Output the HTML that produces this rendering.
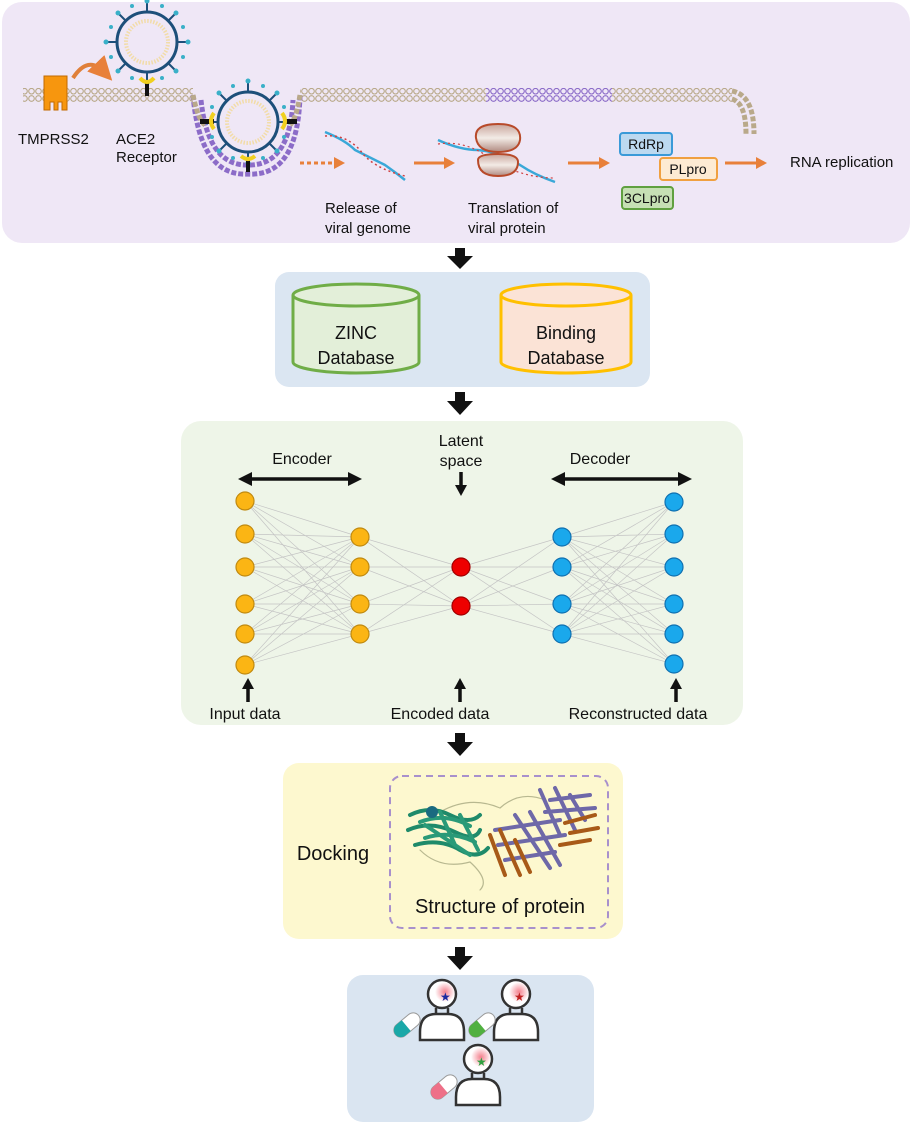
<!DOCTYPE html>
<html><head><meta charset="utf-8"><style>
html,body{margin:0;padding:0;background:#fff}
svg{display:block;font-family:"Liberation Sans",Arial,sans-serif}
</style></head><body>
<svg width="914" height="1126" viewBox="0 0 914 1126" xmlns="http://www.w3.org/2000/svg">
<defs>
<pattern id="mem" x="0" y="88" width="7" height="14" patternUnits="userSpaceOnUse">
<circle cx="3.5" cy="3.2" r="2.8" fill="none" stroke="#b9a98a" stroke-width="1.1"/>
<circle cx="3.5" cy="10.5" r="2.8" fill="none" stroke="#b9a98a" stroke-width="1.1"/>
</pattern>
<pattern id="memp" x="0" y="88" width="7" height="14" patternUnits="userSpaceOnUse">
<circle cx="3.5" cy="3.2" r="2.8" fill="none" stroke="#8c6cc8" stroke-width="1.1"/>
<circle cx="3.5" cy="10.5" r="2.8" fill="none" stroke="#8c6cc8" stroke-width="1.1"/>
</pattern>
<radialGradient id="glow"><stop offset="0" stop-color="#f06070" stop-opacity=".8"/><stop offset="1" stop-color="#f06070" stop-opacity="0"/></radialGradient>
<linearGradient id="rib" x1="0" y1="0" x2="0" y2="1"><stop offset="0" stop-color="#c8a49a"/><stop offset=".5" stop-color="#f3ebe6"/><stop offset="1" stop-color="#b08a80"/></linearGradient>
<g id="virus">
<circle r="30" fill="none" stroke="#1d4f7a" stroke-width="3"/>
<circle r="21" fill="none" stroke="#f2dca8" stroke-width="4" stroke-dasharray="1.5 1.5"/>
<g stroke="#1d4f7a" stroke-width="2">
<line x1="0" y1="-30" x2="0" y2="-40"/><line x1="0" y1="30" x2="0" y2="40"/><line x1="-30" y1="0" x2="-40" y2="0"/><line x1="30" y1="0" x2="40" y2="0"/>
<line x1="21" y1="21" x2="28" y2="28"/><line x1="-21" y1="21" x2="-28" y2="28"/><line x1="21" y1="-21" x2="28" y2="-28"/><line x1="-21" y1="-21" x2="-28" y2="-28"/>
</g>
<g fill="#3ab0c8"><circle cx="0" cy="-41" r="2.5"/><circle cx="0" cy="41" r="2.5"/><circle cx="-41" cy="0" r="2.5"/><circle cx="41" cy="0" r="2.5"/><circle cx="29" cy="29" r="2.5"/><circle cx="-29" cy="29" r="2.5"/><circle cx="29" cy="-29" r="2.5"/><circle cx="-29" cy="-29" r="2.5"/>
<circle cx="15" cy="-36" r="2"/><circle cx="-15" cy="-36" r="2"/><circle cx="36" cy="15" r="2"/><circle cx="36" cy="-15" r="2"/><circle cx="-36" cy="15" r="2"/><circle cx="-36" cy="-15" r="2"/><circle cx="15" cy="36" r="2"/><circle cx="-15" cy="36" r="2"/></g>
</g>
<g id="person">
<circle cx="0" cy="-18" r="14" fill="#fff" stroke="#333" stroke-width="2.5"/>
<circle cx="3" cy="-20" r="10" fill="url(#glow)"/>
<path d="M-6,-4 L-6,2 M6,-4 L6,2" stroke="#333" stroke-width="2.5"/>
<path d="M-22,28 L-22,20 Q-22,2 -6,2 L6,2 Q22,2 22,20 L22,28 Z" fill="#fff" stroke="#333" stroke-width="2.5"/>
</g>
<marker id="oa" markerWidth="6" markerHeight="6" refX="3" refY="3" orient="auto"><path d="M0,0 L6,3 L0,6 Z" fill="#e8803a"/></marker>
</defs>

<rect x="2" y="2" width="908" height="241" rx="20" fill="#efe7f6"/>
<rect x="23" y="88" width="170" height="14" fill="url(#mem)"/>
<rect x="300" y="88" width="186" height="14" fill="url(#mem)"/>
<rect x="486" y="88" width="126" height="14" fill="url(#memp)"/>
<rect x="612" y="88" width="120" height="14" fill="url(#mem)"/>
<path d="M732,91 Q754,95 754,134" fill="none" stroke="#b9a98a" stroke-width="5" stroke-dasharray="5 2"/>
<path d="M732,99 Q746,103 746,134" fill="none" stroke="#b9a98a" stroke-width="5" stroke-dasharray="5 2"/>
<path d="M193,95 Q200,177 248,174 Q298,177 300,95" fill="none" stroke="#8c6cc8" stroke-width="5" stroke-dasharray="5 2"/>
<path d="M201,100 Q208,166 248,165 Q290,166 293,100" fill="none" stroke="#8c6cc8" stroke-width="5" stroke-dasharray="5 2"/>
<path d="M193,95 Q198,120 205,125" fill="none" stroke="#b9a98a" stroke-width="5" stroke-dasharray="5 2"/>
<path d="M300,95 Q296,120 290,125" fill="none" stroke="#b9a98a" stroke-width="5" stroke-dasharray="5 2"/>
<use href="#virus" x="147" y="42"/>
<rect x="145" y="80" width="4" height="16" fill="#111"/>
<path d="M140,78 Q147,86 154,78" fill="none" stroke="#f0d020" stroke-width="4"/>
<use href="#virus" x="248" y="122"/>
<rect x="200" y="119" width="14" height="5" fill="#111"/><rect x="283" y="119" width="14" height="5" fill="#111"/>
<rect x="246" y="160" width="4" height="12" fill="#111"/>
<path d="M214,113 Q208,121 214,129" fill="none" stroke="#f0d020" stroke-width="4"/>
<path d="M282,113 Q288,121 282,129" fill="none" stroke="#f0d020" stroke-width="4"/>
<path d="M241,156 Q248,162 255,156" fill="none" stroke="#f0d020" stroke-width="4"/>
<path d="M44,76 L67,76 L67,110 L62,110 L62,102 L58,102 L58,110 L54,110 L54,102 L50,102 L50,110 L44,110 Z" fill="#f7960e" stroke="#c06a00" stroke-width="1"/>
<path d="M73,78 Q88,55 104,72" fill="none" stroke="#e0803a" stroke-width="4" marker-end="url(#oa)"/>
<g font-size="15" fill="#111">
<text x="18" y="144">TMPRSS2</text>
<text x="116" y="144">ACE2</text><text x="116" y="162">Receptor</text>
<text x="325" y="213">Release of</text><text x="325" y="233">viral genome</text>
<text x="468" y="213">Translation of</text><text x="468" y="233">viral protein</text>
<text x="790" y="167">RNA replication</text>
</g>
<line x1="300" y1="163" x2="334" y2="163" stroke="#e8803a" stroke-width="3" stroke-dasharray="4 3"/>
<path d="M334,157 L345,163 L334,169 Z" fill="#e8803a"/>
<line x1="414" y1="163" x2="445" y2="163" stroke="#e8803a" stroke-width="3"/><path d="M444,157 L455,163 L444,169 Z" fill="#e8803a"/>
<line x1="568" y1="163" x2="600" y2="163" stroke="#e8803a" stroke-width="3"/><path d="M599,157 L610,163 L599,169 Z" fill="#e8803a"/>
<line x1="725" y1="163" x2="757" y2="163" stroke="#e8803a" stroke-width="3"/><path d="M756,157 L767,163 L756,169 Z" fill="#e8803a"/>
<path d="M325,132 Q345,140 355,150 Q375,160 385,165 Q395,172 405,180" fill="none" stroke="#3aa8d8" stroke-width="2.5"/>
<path d="M325,136 Q345,134 360,150 Q372,168 405,176" fill="none" stroke="#d04040" stroke-width="1.5" stroke-dasharray="2 3"/>
<path d="M438,140 Q460,150 478,150 Q500,152 520,165 Q535,175 555,182" fill="none" stroke="#3aa8d8" stroke-width="2.5"/>
<path d="M438,144 Q465,140 490,158 Q520,178 555,178" fill="none" stroke="#d04040" stroke-width="1.2" stroke-dasharray="2 3"/>
<path d="M476,138 Q474,124 498,124 Q522,124 520,140 Q518,152 498,152 Q478,152 476,138 Z" fill="url(#rib)" stroke="#b84a2a" stroke-width="2"/>
<path d="M478,160 Q478,154 498,154 Q518,154 518,162 Q518,176 498,176 Q478,176 478,160 Z" fill="url(#rib)" stroke="#b84a2a" stroke-width="2"/>
<rect x="620" y="133" width="52" height="22" rx="3" fill="#bcd9f0" stroke="#3a9ad8" stroke-width="2"/>
<rect x="660" y="158" width="57" height="22" rx="3" fill="#fdebd3" stroke="#f0a040" stroke-width="2"/>
<rect x="622" y="187" width="51" height="22" rx="3" fill="#c6e0b4" stroke="#60a040" stroke-width="2"/>
<g font-size="14" fill="#111" text-anchor="middle"><text x="646" y="149">RdRp</text><text x="688" y="174">PLpro</text><text x="647" y="203">3CLpro</text></g>

<g fill="#111">
<path d="M455,248 L465,248 L465,256 L473,256 L460,269 L447,256 L455,256 Z"/>
<path d="M455,392 L465,392 L465,401 L473,401 L460,415 L447,401 L455,401 Z"/>
<path d="M455,733 L465,733 L465,742 L473,742 L460,756 L447,742 L455,742 Z"/>
<path d="M455,947 L465,947 L465,956 L473,956 L460,970 L447,956 L455,956 Z"/>
</g>

<rect x="275" y="272" width="375" height="115" rx="14" fill="#dbe6f2"/>
<path d="M293,295 L293,362 A63,11 0 0 0 419,362 L419,295" fill="#e3efd9" stroke="#70ad47" stroke-width="3"/>
<ellipse cx="356" cy="295" rx="63" ry="11" fill="#e3efd9" stroke="#70ad47" stroke-width="3"/>
<path d="M501,295 L501,362 A65,11 0 0 0 631,362 L631,295" fill="#fbe3d6" stroke="#ffc000" stroke-width="3"/>
<ellipse cx="566" cy="295" rx="65" ry="11" fill="#fbe3d6" stroke="#ffc000" stroke-width="3"/>
<g font-size="18" fill="#111" text-anchor="middle">
<text x="356" y="339">ZINC</text><text x="356" y="364">Database</text>
<text x="566" y="339">Binding</text><text x="566" y="364">Database</text>
</g>

<rect x="181" y="421" width="562" height="304" rx="20" fill="#eef5e8"/>
<g font-size="16" fill="#111" text-anchor="middle">
<text x="302" y="464">Encoder</text><text x="600" y="464">Decoder</text>
<text x="461" y="446">Latent</text><text x="461" y="466">space</text>
<text x="245" y="719">Input data</text><text x="440" y="719">Encoded data</text><text x="638" y="719">Reconstructed data</text>
</g>
<g stroke="#111" stroke-width="3.5" fill="#111">
<line x1="250" y1="479" x2="350" y2="479"/><path d="M238,479 L252,472 L252,486 Z" stroke="none"/><path d="M362,479 L348,472 L348,486 Z" stroke="none"/>
<line x1="563" y1="479" x2="680" y2="479"/><path d="M551,479 L565,472 L565,486 Z" stroke="none"/><path d="M692,479 L678,472 L678,486 Z" stroke="none"/>
<line x1="461" y1="472" x2="461" y2="486"/><path d="M455,485 L467,485 L461,496 Z" stroke="none"/>
<line x1="248" y1="688" x2="248" y2="702"/><path d="M242,689 L254,689 L248,678 Z" stroke="none"/>
<line x1="460" y1="688" x2="460" y2="702"/><path d="M454,689 L466,689 L460,678 Z" stroke="none"/>
<line x1="676" y1="688" x2="676" y2="702"/><path d="M670,689 L682,689 L676,678 Z" stroke="none"/>
</g>
<g stroke="#c4c4c4" stroke-width="0.7">
<path d="M245,501 L360,537 M245,501 L360,567 M245,501 L360,604 M245,501 L360,634
M245,534 L360,537 M245,534 L360,567 M245,534 L360,604 M245,534 L360,634
M245,567 L360,537 M245,567 L360,567 M245,567 L360,604 M245,567 L360,634
M245,604 L360,537 M245,604 L360,567 M245,604 L360,604 M245,604 L360,634
M245,634 L360,537 M245,634 L360,567 M245,634 L360,604 M245,634 L360,634
M245,665 L360,537 M245,665 L360,567 M245,665 L360,604 M245,665 L360,634"/>
<path d="M360,537 L461,567 M360,537 L461,606 M360,567 L461,567 M360,567 L461,606 M360,604 L461,567 M360,604 L461,606 M360,634 L461,567 M360,634 L461,606"/>
<path d="M562,537 L461,567 M562,537 L461,606 M562,567 L461,567 M562,567 L461,606 M562,604 L461,567 M562,604 L461,606 M562,634 L461,567 M562,634 L461,606"/>
<path d="M674,502 L562,537 M674,502 L562,567 M674,502 L562,604 M674,502 L562,634
M674,534 L562,537 M674,534 L562,567 M674,534 L562,604 M674,534 L562,634
M674,567 L562,537 M674,567 L562,567 M674,567 L562,604 M674,567 L562,634
M674,604 L562,537 M674,604 L562,567 M674,604 L562,604 M674,604 L562,634
M674,634 L562,537 M674,634 L562,567 M674,634 L562,604 M674,634 L562,634
M674,664 L562,537 M674,664 L562,567 M674,664 L562,604 M674,664 L562,634"/>
</g>
<g fill="#fbb514" stroke="#c08a10" stroke-width="1.2">
<circle cx="245" cy="501" r="9"/><circle cx="245" cy="534" r="9"/><circle cx="245" cy="567" r="9"/><circle cx="245" cy="604" r="9"/><circle cx="245" cy="634" r="9"/><circle cx="245" cy="665" r="9"/>
<circle cx="360" cy="537" r="9"/><circle cx="360" cy="567" r="9"/><circle cx="360" cy="604" r="9"/><circle cx="360" cy="634" r="9"/>
</g>
<g fill="#ee0000" stroke="#a00000" stroke-width="1.2"><circle cx="461" cy="567" r="9"/><circle cx="461" cy="606" r="9"/></g>
<g fill="#1aa8ec" stroke="#1070b0" stroke-width="1.2">
<circle cx="562" cy="537" r="9"/><circle cx="562" cy="567" r="9"/><circle cx="562" cy="604" r="9"/><circle cx="562" cy="634" r="9"/>
<circle cx="674" cy="502" r="9"/><circle cx="674" cy="534" r="9"/><circle cx="674" cy="567" r="9"/><circle cx="674" cy="604" r="9"/><circle cx="674" cy="634" r="9"/><circle cx="674" cy="664" r="9"/>
</g>

<rect x="283" y="763" width="340" height="176" rx="16" fill="#fdf8cf"/>
<rect x="390" y="776" width="218" height="152" rx="12" fill="none" stroke="#a890cc" stroke-width="2" stroke-dasharray="7 5"/>
<text x="333" y="860" font-size="20" fill="#111" text-anchor="middle">Docking</text>
<text x="500" y="913" font-size="20" fill="#111" text-anchor="middle">Structure of protein</text>
<g stroke-width="4" fill="none" stroke-linecap="round">
<path d="M420,850 Q440,870 470,862 Q490,880 480,890 M440,812 Q470,795 500,808 Q520,790 545,800" stroke="#b8b890" stroke-width="1.2"/>
<path d="M410,815 Q430,805 450,815 Q470,825 480,815" stroke="#1f8a6a"/>
<path d="M408,830 Q430,820 455,832 Q475,842 480,830" stroke="#1f8a6a"/>
<path d="M415,845 Q440,838 460,850 Q478,860 488,848" stroke="#1f8a6a"/>
<path d="M420,822 Q445,812 470,826 M425,838 Q450,830 475,842" stroke="#2a9a78"/>
<path d="M425,825 L470,855 M440,812 L455,845 M460,815 L478,850" stroke="#2a9a78"/>
<circle cx="432" cy="812" r="6" fill="#1a6a80" stroke="none"/>
<path d="M495,830 L560,820 M498,845 L565,835 M505,860 L555,852 M515,815 L550,868 M530,812 L560,865" stroke="#6e68a8"/>
<path d="M540,790 L560,835 M555,788 L575,830 M570,795 L585,820 M550,800 L590,795 M545,812 L595,808" stroke="#6e68a8"/>
<path d="M490,835 L505,875 M500,830 L520,875 M515,840 L530,872 M565,823 L595,815 M570,833 L598,828 M560,845 L590,840" stroke="#a85a18"/>
</g>

<rect x="347" y="975" width="247" height="147" rx="16" fill="#dae5f1"/>
<use href="#person" x="442" y="1012"/>
<use href="#person" x="516" y="1012"/>
<use href="#person" x="478" y="1077"/>
<text x="440" y="1001" font-size="12" fill="#1a2aa0">★</text>
<text x="514" y="1001" font-size="12" fill="#c02020">★</text>
<text x="476" y="1066" font-size="12" fill="#30a040">★</text>
<g transform="translate(407,1025) rotate(-40)"><rect x="-15" y="-7" width="30" height="14" rx="7" fill="#fff" stroke="#999"/><path d="M-8,-7 L-8,7 L-15,7 A7,7 0 0 1 -15,-7 Z" fill="#1aa8a8" transform="translate(7,0)"/></g>
<g transform="translate(482,1025) rotate(-40)"><rect x="-15" y="-7" width="30" height="14" rx="7" fill="#fff" stroke="#999"/><path d="M-8,-7 L-8,7 L-15,7 A7,7 0 0 1 -15,-7 Z" fill="#50b040" transform="translate(7,0)"/></g>
<g transform="translate(444,1087) rotate(-40)"><rect x="-15" y="-7" width="30" height="14" rx="7" fill="#fff" stroke="#999"/><path d="M-8,-7 L-8,7 L-15,7 A7,7 0 0 1 -15,-7 Z" fill="#ee7088" transform="translate(7,0)"/></g>
</svg>
</body></html>
